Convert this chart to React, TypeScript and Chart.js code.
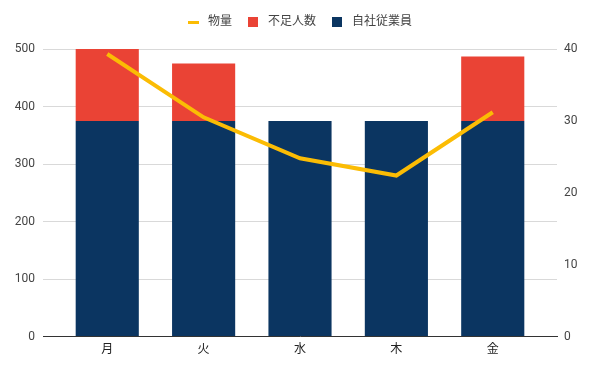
import React, { useEffect, useRef } from "react";
import { Chart, registerables } from "chart.js";

Chart.register(...registerables);

const categories = ["月", "火", "水", "木", "金"];
const staffValues = [375, 375, 375, 375, 375];
const shortageValues = [125, 100, 0, 0, 112];
const volumeValues = [39.3, 30.5, 24.8, 22.4, 31.2];
const leftTicks = [0, 100, 200, 300, 400, 500];
const rightTicks = [0, 10, 20, 30, 40];

const NAVY = "#0b3561";
const RED = "#ea4335";
const YELLOW = "#fbbc04";
const FONT = "Roboto, 'Noto Sans CJK JP', sans-serif";
const legendOrder = ["物量", "不足人数", "自社従業員"];

function makeSymbol(kind: "line" | "rect", color: string) {
  const c = document.createElement("canvas");
  c.width = 14;
  c.height = 10;
  const ctx = c.getContext("2d")!;
  ctx.fillStyle = color;
  if (kind === "line") {
    ctx.fillRect(0, 4, 11, 3);
  } else {
    ctx.fillRect(0, 0, 10, 10);
  }
  return c;
}

export default function App() {
  const ref = useRef<HTMLCanvasElement | null>(null);
  useEffect(() => {
    if (!ref.current) return;
    const legendSpace = {
      id: "legendSpace",
      beforeInit(chart: any) {
        const legend = chart.legend;
        if (!legend) return;
        const orig = legend.fit;
        legend.fit = function () {
          orig.call(this);
          this.height += 11;
        };
      },
    };
    const chart = new Chart(ref.current, {
      type: "bar",
      plugins: [legendSpace],
      data: {
        datasets: [
          {
            type: "line",
            label: "物量",
            data: volumeValues.map((v, i) => ({ x: i, y: v })),
            borderColor: YELLOW,
            backgroundColor: YELLOW,
            borderWidth: 4,
            pointRadius: 0,
            tension: 0,
            yAxisID: "y1",
            order: 0,
          } as any,
          {
            type: "bar",
            label: "自社従業員",
            data: staffValues.map((v, i) => ({ x: i, y: v })),
            backgroundColor: NAVY,
            yAxisID: "y",
            stack: "s",
            barPercentage: 0.655,
            categoryPercentage: 1,
            order: 1,
          },
          {
            type: "bar",
            label: "不足人数",
            data: shortageValues.map((v, i) => ({ x: i, y: v })),
            backgroundColor: RED,
            yAxisID: "y",
            stack: "s",
            barPercentage: 0.655,
            categoryPercentage: 1,
            order: 1,
          },
        ],
      },
      options: {
        animation: false,
        responsive: true,
        maintainAspectRatio: false,
        layout: { padding: { top: 0, bottom: 6 } },
        plugins: {
          tooltip: { enabled: false },
          legend: {
            position: "top",
            labels: {
              font: { family: FONT, size: 12 },
              color: "#444",
              boxWidth: 14,
              boxHeight: 10,
              pointStyleWidth: 14,
              padding: 16,
              usePointStyle: true,
              sort: (a: any, b: any) =>
                legendOrder.indexOf(a.text) - legendOrder.indexOf(b.text),
              generateLabels: (c: any) =>
                c.data.datasets.map((ds: any, i: number) => ({
                  text: ds.label,
                  datasetIndex: i,
                  fillStyle: ds.type === "line" ? ds.borderColor : ds.backgroundColor,
                  strokeStyle: "transparent",
                  lineWidth: 0,
                  pointStyle:
                    ds.type === "line"
                      ? makeSymbol("line", ds.borderColor)
                      : makeSymbol("rect", ds.backgroundColor),
                  fontColor: "#444",
                  hidden: false,
                })),
            },
          },
        },
        scales: {
          x: {
            type: "linear",
            offset: false,
            min: -2 / 3,
            max: 4 + 2 / 3,
            afterBuildTicks: (s: any) => {
              s.ticks = categories.map((_, i) => ({ value: i }));
            },
            ticks: {
              callback: (v: any) => categories[v] ?? "",
              font: { family: FONT, size: 12 },
              color: "#222",
              padding: 6,
              autoSkip: false,
              maxRotation: 0,
            },
            grid: { display: false, drawTicks: false },
            border: { display: true, color: "#333", width: 1 },
          },
          y: {
            position: "left",
            min: 0,
            max: 500,
            afterBuildTicks: (s: any) => {
              s.ticks = leftTicks.map((v) => ({ value: v }));
            },
            ticks: {
              font: { family: FONT, size: 12 },
              color: "#444",
              padding: 8,
            },
            grid: { color: "#d9d9d9", drawTicks: false },
            border: { display: false },
            afterFit: (s: any) => {
              s.width = 43;
            },
          },
          y1: {
            position: "right",
            min: 0,
            max: 40,
            afterBuildTicks: (s: any) => {
              s.ticks = rightTicks.map((v) => ({ value: v }));
            },
            ticks: {
              font: { family: FONT, size: 12 },
              color: "#444",
              padding: 7,
            },
            grid: { display: false, drawTicks: false },
            border: { display: false },
            afterFit: (s: any) => {
              s.width = 43;
            },
          },
        },
      } as any,
    });
    return () => chart.destroy();
  }, []);
  return (
    <div style={{ position: "fixed", left: 0, top: 0, width: 600, height: 369, background: "#fff" }}>
      <canvas ref={ref} />
    </div>
  );
}
